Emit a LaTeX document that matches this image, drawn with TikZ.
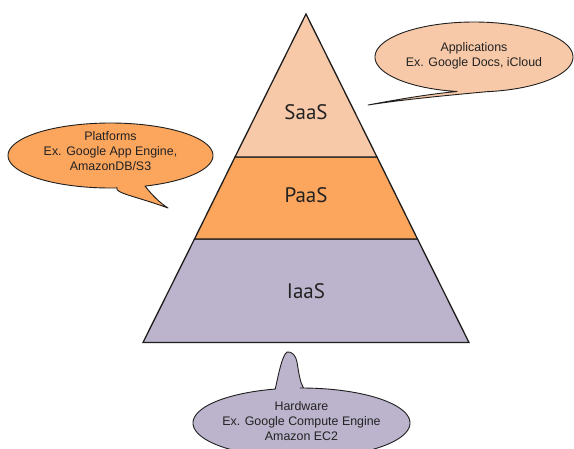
\documentclass[tikz,border=0pt]{standalone}
\usepackage{fontspec}
\setmainfont{Liberation Sans}
\newfontfamily\layerfont{PT Sans}
\definecolor{saasfill}{HTML}{F8C9A8}
\definecolor{paasfill}{HTML}{FCA55D}
\definecolor{iaasfill}{HTML}{BCB4CC}
\definecolor{inkline}{HTML}{1E1E1E}
\definecolor{inktext}{HTML}{222222}
\tikzset{
  layer/.style={draw=inkline, line width=1.3pt, line join=miter},
  bubble/.style={draw=inkline, line width=0.9pt, line join=round},
  layertext/.style={font=\layerfont\fontsize{21}{24}\selectfont, text=inktext, inner sep=0pt},
  bubbletext/.style={font=\fontsize{12.4}{15}\selectfont, text=inktext, align=center, inner sep=0pt},
}
\begin{document}
\begin{tikzpicture}[x=1pt,y=-1pt]
  \useasboundingbox (0,0) rectangle (574,448);
  \clip (0,0) rectangle (574,448);

  % pyramid corners
  \coordinate (apex) at (306,14);
  \coordinate (sl) at (235,157);   \coordinate (sr) at (377,157);
  \coordinate (pl) at (194.5,239); \coordinate (pr) at (417.5,239);
  \coordinate (bl) at (143,342.5); \coordinate (br) at (469,342.5);

  % the three layers
  \filldraw[layer, fill=iaasfill] (pl) -- (pr) -- (br) -- (bl) -- cycle;
  \filldraw[layer, fill=paasfill] (sl) -- (sr) -- (pr) -- (pl) -- cycle;
  \filldraw[layer, fill=saasfill] (apex) -- (sr) -- (sl) -- cycle;

  \node[layertext] (saas) at (306,112) {SaaS};
  \node[layertext] (paas) at (306,195) {PaaS};
  \node[layertext] (iaas) at (306,291) {IaaS};

  % speech bubble: applications (tail towards SaaS)
  \filldraw[bubble, fill=saasfill]
    plot[domain=99.9:442.5, samples=140] ({474+99*cos(\x)},{57+35*sin(\x)})
    .. controls (440,96) and (400,100) .. (368,105)
    .. controls (400,99) and (430,94) .. (457,91.5) -- cycle;
  \node[bubbletext] (apps) at (474,55.5) {Applications\\Ex. Google Docs, iCloud};

  % speech bubble: platforms (tail towards PaaS)
  \filldraw[bubble, fill=paasfill]
    plot[domain=86.4:430.3, samples=140] ({110.5+102.5*cos(\x)},{155.5+32.5*sin(\x)})
    .. controls (152,195) and (160,203) .. (168,208)
    .. controls (135,196) and (114,193) .. (117,187.5) -- cycle;
  \node[bubbletext] (plat) at (110.5,151.5) {Platforms\\Ex. Google App Engine,\\AmazonDB/S3};

  % speech bubble: hardware (tail towards IaaS)
  \filldraw[bubble, fill=iaasfill]
    plot[domain=269.2:616, samples=140] ({301.5+108.5*cos(\x)},{423+35*sin(\x)})
    .. controls (279,372) and (282,356) .. (287,352)
    .. controls (292,351) and (296,356) .. (297,362)
    .. controls (299,374) and (300,382) .. (303.5,388) -- cycle;
  \node[bubbletext] (hw) at (301.5,421.5) {Hardware\\Ex. Google Compute Engine\\Amazon EC2};
\end{tikzpicture}
\end{document}
